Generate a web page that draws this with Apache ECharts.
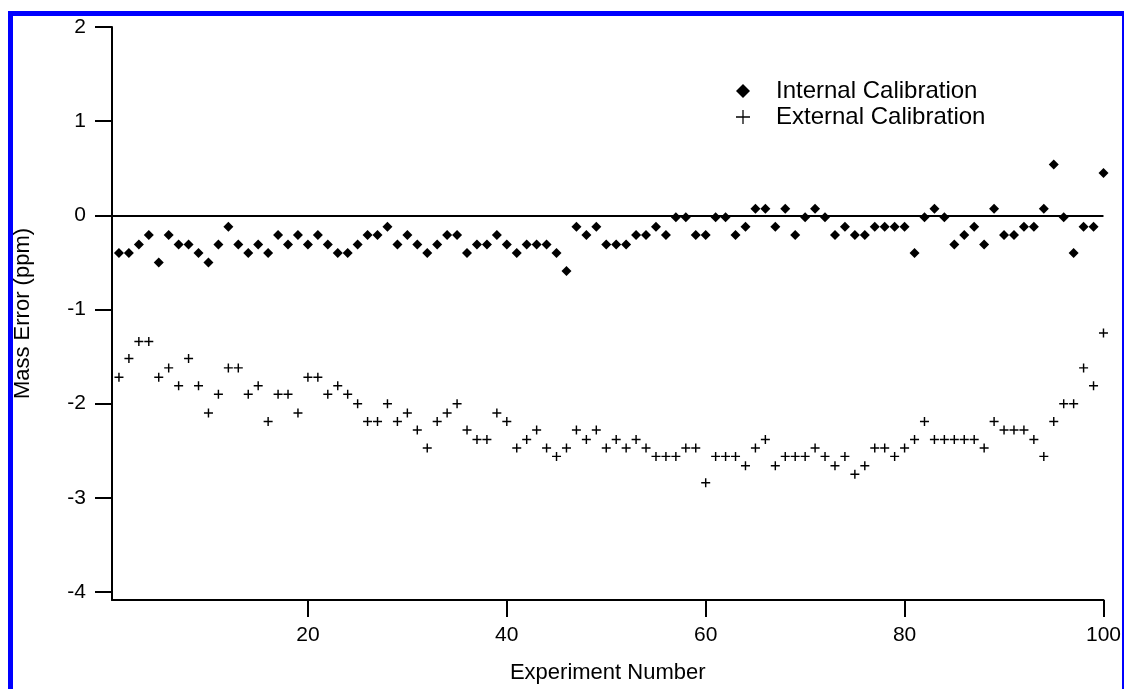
<!DOCTYPE html>
<html>
<head>
<meta charset="utf-8">
<script src="https://cdn.jsdelivr.net/npm/echarts@6/dist/echarts.min.js"></script>
<style>
  html, body { margin: 0; padding: 0; background: #fff; overflow: hidden; }
  #frame {
    position: absolute; left: 8px; top: 11px;
    width: 1109px; height: 680px;
    border: 5px solid #0000ff;
  }
  #chart { position: absolute; left: 0; top: 0; width: 1124px; height: 689px; }
</style>
</head>
<body>
<div id="frame"></div>
<div id="chart"></div>
<script>
// experiment numbers 1..100
const experiments = [
  1, 2, 3, 4, 5, 6, 7, 8, 9, 10, 11, 12, 13, 14, 15, 16, 17, 18, 19, 20,
  21, 22, 23, 24, 25, 26, 27, 28, 29, 30, 31, 32, 33, 34, 35, 36, 37, 38, 39, 40,
  41, 42, 43, 44, 45, 46, 47, 48, 49, 50, 51, 52, 53, 54, 55, 56, 57, 58, 59, 60,
  61, 62, 63, 64, 65, 66, 67, 68, 69, 70, 71, 72, 73, 74, 75, 76, 77, 78, 79, 80,
  81, 82, 83, 84, 85, 86, 87, 88, 89, 90, 91, 92, 93, 94, 95, 96, 97, 98, 99, 100
];

const internalCal = [
  -0.40, -0.40, -0.31, -0.21, -0.50, -0.21, -0.31, -0.31, -0.40, -0.50,
  -0.31, -0.12, -0.31, -0.40, -0.31, -0.40, -0.21, -0.31, -0.21, -0.31,
  -0.21, -0.31, -0.40, -0.40, -0.31, -0.21, -0.21, -0.12, -0.31, -0.21,
  -0.31, -0.40, -0.31, -0.21, -0.21, -0.40, -0.31, -0.31, -0.21, -0.31,
  -0.40, -0.31, -0.31, -0.31, -0.40, -0.59, -0.12, -0.21, -0.12, -0.31,
  -0.31, -0.31, -0.21, -0.21, -0.12, -0.21, -0.02, -0.02, -0.21, -0.21,
  -0.02, -0.02, -0.21, -0.12, 0.07, 0.07, -0.12, 0.07, -0.21, -0.02,
  0.07, -0.02, -0.21, -0.12, -0.21, -0.21, -0.12, -0.12, -0.12, -0.12,
  -0.40, -0.02, 0.07, -0.02, -0.31, -0.21, -0.12, -0.31, 0.07, -0.21,
  -0.21, -0.12, -0.12, 0.07, 0.54, -0.02, -0.40, -0.12, -0.12, 0.45
];

const externalCal = [
  -1.72, -1.52, -1.34, -1.34, -1.72, -1.62, -1.81, -1.52, -1.81, -2.10,
  -1.90, -1.62, -1.62, -1.90, -1.81, -2.19, -1.90, -1.90, -2.10, -1.72,
  -1.72, -1.90, -1.81, -1.90, -2.00, -2.19, -2.19, -2.00, -2.19, -2.10,
  -2.28, -2.47, -2.19, -2.10, -2.00, -2.28, -2.38, -2.38, -2.10, -2.19,
  -2.47, -2.38, -2.28, -2.47, -2.56, -2.47, -2.28, -2.38, -2.28, -2.47,
  -2.38, -2.47, -2.38, -2.47, -2.56, -2.56, -2.56, -2.47, -2.47, -2.84,
  -2.56, -2.56, -2.56, -2.66, -2.47, -2.38, -2.66, -2.56, -2.56, -2.56,
  -2.47, -2.56, -2.66, -2.56, -2.75, -2.66, -2.47, -2.47, -2.56, -2.47,
  -2.38, -2.19, -2.38, -2.38, -2.38, -2.38, -2.38, -2.47, -2.19, -2.28,
  -2.28, -2.28, -2.38, -2.56, -2.19, -2.00, -2.00, -1.62, -1.81, -1.25
];

const yTicks = [-4, -3, -2, -1, 0, 1, 2];
const xTicks = [20, 40, 60, 80, 100];

const plusMark = "path://M4.2,0 L5.8,0 L5.8,4.2 L10,4.2 L10,5.8 L5.8,5.8 L5.8,10 L4.2,10 L4.2,5.8 L0,5.8 L0,4.2 L4.2,4.2 Z";
const plusLegend = "path://M4.55,0 L5.45,0 L5.45,4.55 L10,4.55 L10,5.45 L5.45,5.45 L5.45,10 L4.55,10 L4.55,5.45 L0,5.45 L0,4.55 L4.55,4.55 Z";

const font = "Liberation Sans";
const myChart = echarts.init(document.getElementById("chart"));

const option = {
  animation: false,
  backgroundColor: "transparent",
  grid: { left: 112, width: 992, top: 27, height: 578 },
  legend: {
    orient: "vertical",
    left: 731,
    top: 74,
    itemWidth: 14,
    itemHeight: 14,
    itemGap: 2,
    textStyle: {
      fontFamily: font,
      fontSize: 24,
      color: "#000",
      lineHeight: 24,
      padding: [0, 0, 0, 21],
    },
    data: [
      { name: "Internal Calibration", icon: "diamond", itemStyle: { color: "#000", opacity: 1 } },
      { name: "External Calibration", icon: plusLegend, itemStyle: { color: "#000", opacity: 1 } },
    ],
  },
  xAxis: {
    type: "value",
    min: 0.3,
    max: 100,
    name: "Experiment Number",
    nameLocation: "middle",
    nameGap: 62,
    nameTextStyle: { fontFamily: font, fontSize: 22, color: "#000" },
    axisLine: { show: true, onZero: false, lineStyle: { color: "#000", width: 2 } },
    axisTick: { show: true, length: 17, lineStyle: { color: "#000", width: 2 }, customValues: xTicks },
    axisLabel: { fontFamily: font, fontSize: 21, color: "#000", margin: 25, customValues: xTicks },
    splitLine: { show: false },
  },
  yAxis: {
    type: "value",
    min: -4.085,
    max: 2,
    name: "Mass Error (ppm)",
    nameLocation: "middle",
    nameGap: 78,
    nameTextStyle: { fontFamily: font, fontSize: 22, color: "#000" },
    axisLine: { show: true, lineStyle: { color: "#000", width: 2 } },
    axisTick: { show: true, length: 17, lineStyle: { color: "#000", width: 2 }, customValues: yTicks },
    axisLabel: { fontFamily: font, fontSize: 21, color: "#000", margin: 26, customValues: yTicks },
    splitLine: { show: false },
  },
  series: [
    {
      name: "Internal Calibration",
      type: "scatter",
      symbol: "diamond",
      symbolSize: 10,
      itemStyle: { color: "#000", opacity: 1 },
      data: experiments.map((x, i) => [x, internalCal[i]]),
      markLine: {
        silent: true,
        symbol: ["none", "none"],
        label: { show: false },
        lineStyle: { color: "#000", width: 2, type: "solid", opacity: 1 },
        data: [{ yAxis: 0 }],
      },
    },
    {
      name: "External Calibration",
      type: "scatter",
      symbol: plusMark,
      symbolSize: 9,
      itemStyle: { color: "#000", opacity: 1 },
      data: experiments.map((x, i) => [x, externalCal[i]]),
    },
  ],
};

option && myChart.setOption(option);
</script>
</body>
</html>
